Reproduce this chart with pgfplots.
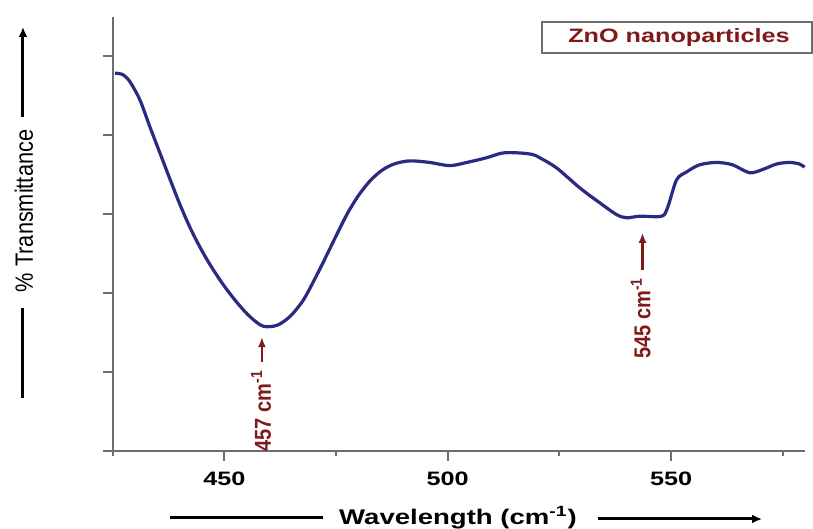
\documentclass[border=0pt]{standalone}
\usepackage{fontspec}
\setmainfont{Liberation Sans}
\usepackage{pgfplots}
\pgfplotsset{compat=1.18}
\usepackage{pgfplotstable}
\usetikzlibrary{arrows.meta}
\newfontfamily\widefont[FakeStretch=1.3]{Liberation Sans}
\newfontfamily\rotfont[FakeStretch=0.87]{Liberation Sans}
\definecolor{curve}{RGB}{42,42,128}
\definecolor{annot}{RGB}{128,26,26}
\definecolor{axgray}{RGB}{110,110,110}

\pgfplotstableread{
x y
425.51 4.78
427.30 4.76
428.87 4.67
431.10 4.44
433.33 4.10
435.57 3.77
437.81 3.44
440.04 3.12
442.28 2.83
444.52 2.58
446.76 2.36
449.67 2.11
452.80 1.88
455.71 1.70
458.62 1.58
461.76 1.59
464.66 1.70
467.57 1.90
470.00 2.15
472.50 2.43
475.00 2.72
477.50 3.00
480.00 3.23
482.50 3.41
485.00 3.54
487.50 3.62
490.00 3.66
492.18 3.67
495.98 3.65
500.46 3.61
504.26 3.65
508.73 3.71
512.31 3.77
516.11 3.77
519.02 3.75
520.59 3.71
524.39 3.58
529.53 3.33
534.01 3.14
537.81 2.99
540.05 2.95
542.96 2.97
547.88 2.97
549.22 3.08
551.23 3.43
553.47 3.53
556.38 3.62
560.18 3.65
563.76 3.62
567.56 3.52
570.47 3.56
573.60 3.63
576.51 3.65
578.75 3.63
579.87 3.59
}\spectrum

\begin{document}
\begin{tikzpicture}
\path[use as bounding box] (-56.35pt,225.5pt) rectangle (350.15pt,-39pt);
\begin{axis}[
  scale only axis,
  width=346.2pt, height=217pt,
  xmin=425, xmax=580, ymin=0, ymax=5.49,
  axis x line*=bottom, axis y line*=left,
  axis line style={axgray, line width=1pt},
  xtick={450,500,550},
  minor xtick={425,475,525,575},
  ytick={0,1,2,3,4,5},
  yticklabels={},
  tick align=outside,
  major tick length=5pt,
  minor tick length=2.5pt,
  tick style={axgray, line width=1pt},
  /pgf/number format/assume math mode=true,
  xticklabel style={font=\widefont\bfseries\fontsize{9.7}{11}\selectfont, yshift=-2pt},
  clip=false,
]
\addplot[curve, line width=1.6pt, smooth, tension=0.5] table[x=x,y=y] {\spectrum};
\node[rotate=90, text=annot, font=\rotfont\bfseries\fontsize{11.5}{12}\selectfont] at (axis cs:458.2,0.51) {457 cm\textsuperscript{-1}};
\draw[annot, line width=1.3pt, -{Latex[length=5pt,width=4pt]}] (axis cs:458.4,1.13) -- (axis cs:458.4,1.44);
\node[rotate=90, text=annot, font=\rotfont\bfseries\fontsize{11.5}{12}\selectfont] at (axis cs:543.2,1.68) {545 cm\textsuperscript{-1}};
\draw[annot, line width=1.3pt, -{Latex[length=5pt,width=4pt]}] (axis cs:543.6,2.29) -- (axis cs:543.6,2.76);
\end{axis}
\begin{scope}[x=0.5pt,y=-0.5pt,shift={(-56.35pt,225.5pt)}]
  % label box
  \draw[axgray, line width=0.8pt, fill=white] (542,22) rectangle (812,53);
  \node[text=annot, font=\widefont\bfseries\fontsize{9.7}{11}\selectfont] at (679,37.5) {ZnO nanoparticles};
  % y label
  \node[rotate=90, font=\rotfont\fontsize{12.5}{14}\selectfont] at (24,211) {\% Transmittance};
  \draw[line width=1.5pt] (23,308) -- (23,398);
  \draw[line width=1.5pt, -{Latex[length=5pt,width=4.5pt]}] (23,117) -- (23,27);
  % x label
  \node[font=\widefont\bfseries\fontsize{10.6}{12}\selectfont] at (458,518) {Wavelength (cm\textsuperscript{-1})};
  \draw[line width=1.5pt] (170,518) -- (323,518);
  \draw[line width=1.5pt, -{Latex[length=5pt,width=4.5pt]}] (598,519) -- (762,519);
\end{scope}
\end{tikzpicture}
\end{document}
